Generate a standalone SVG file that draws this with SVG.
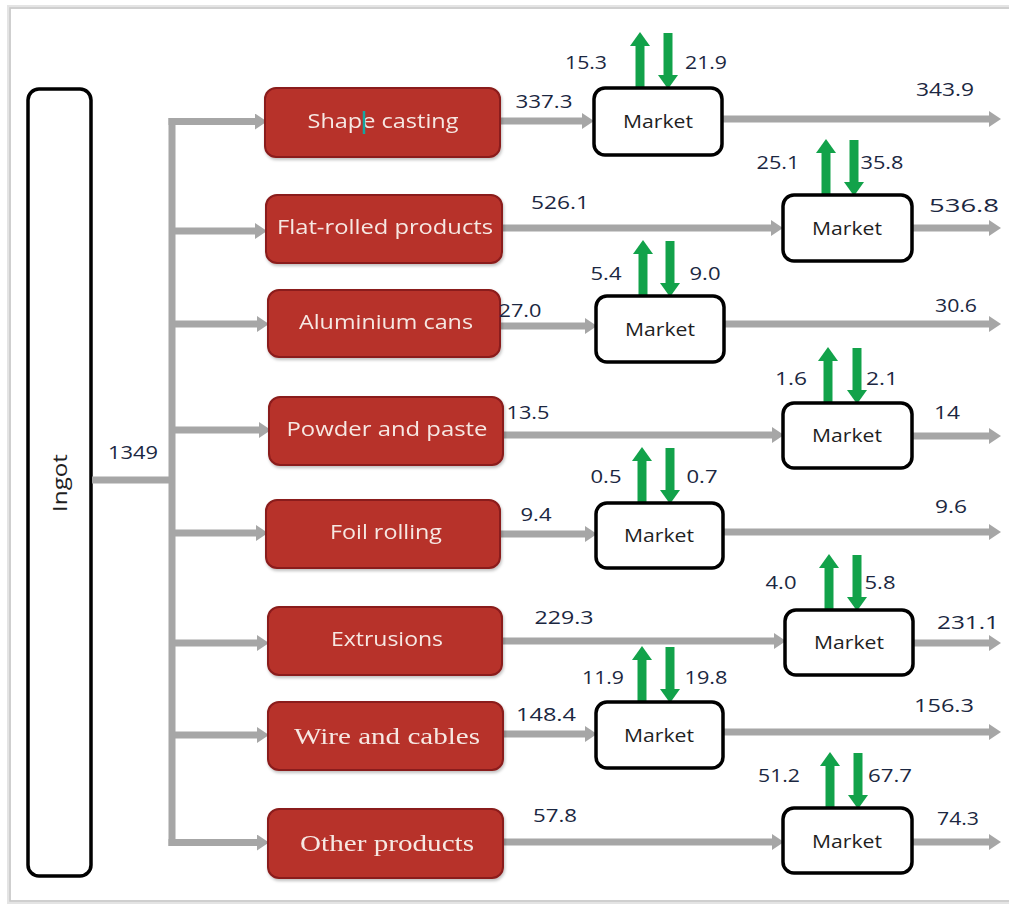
<svg xmlns="http://www.w3.org/2000/svg" width="1009" height="905" viewBox="0 0 1009 905">
  <defs>
    <marker id="grayHead" viewBox="0 -8 12 16" markerWidth="12" markerHeight="16" refX="0" refY="0" orient="auto" markerUnits="userSpaceOnUse">
      <path d="M0,-8 L12,0 L0,8 z" fill="#a6a6a6"/>
    </marker>
    <marker id="greenHead" viewBox="0 -10 14 20" markerWidth="14" markerHeight="20" refX="0" refY="0" orient="auto" markerUnits="userSpaceOnUse">
      <path d="M0,-10 L14,0 L0,10 z" fill="#12a24a"/>
    </marker>
    <filter id="soft" x="-5%" y="-5%" width="110%" height="115%">
      <feDropShadow dx="1" dy="2" stdDeviation="1.5" flood-color="#000" flood-opacity="0.25"/>
    </filter>
  </defs>
  <style>
    .flow { stroke: #a6a6a6; stroke-width: 7; fill: none; marker-end: url(#grayHead); }
    .trunk { stroke: #a6a6a6; stroke-width: 7; fill: none; }
    .trade { stroke: #12a24a; stroke-width: 9; fill: none; marker-end: url(#greenHead); }
    .product rect { fill: #b7302b; stroke: #8a1d1a; stroke-width: 2; }
    .product text { fill: #f6e8e2; text-anchor: middle; }
    .sans { font-family: "Open Sans", "Liberation Sans", Arial, sans-serif; font-size: 20px; }
    .serif { font-family: "Liberation Serif", "Times New Roman", serif; font-size: 24px; }
    .market rect { fill: #ffffff; stroke: #000000; stroke-width: 3.5; }
    .market text { font-family: "Open Sans", "Liberation Sans", Arial, sans-serif; font-size: 18px; fill: #1f1f1f; text-anchor: middle; }
    .num { font-family: "Open Sans", "Liberation Sans", Arial, sans-serif; font-size: 19px; fill: #1b2741; text-anchor: middle; }
  </style>

  <rect width="1009" height="905" fill="#ffffff"/>
  <!-- page frame -->
  <rect x="9" y="7" width="1010" height="895" fill="none" stroke="#e4e4e4" stroke-width="4"/>
  <rect x="10" y="8" width="1010" height="893" fill="none" stroke="#c8c8c8" stroke-width="1.5"/>

  <!-- source -->
  <g id="ingot">
    <rect x="28" y="89" width="63" height="787" rx="11" fill="#ffffff" stroke="#000" stroke-width="3.5"/>
    <text transform="translate(67,483) rotate(-90)" font-family="Open Sans, Liberation Sans, Arial, sans-serif" font-size="20" fill="#1f1f1f" text-anchor="middle" textLength="58" lengthAdjust="spacingAndGlyphs">Ingot</text>
  </g>

  <g id="connectors">
    <!-- ingot to distribution trunk -->
    <line class="trunk" x1="92" y1="480" x2="175" y2="480"/>
    <line class="trunk" x1="172" y1="118" x2="172" y2="846"/>
    <!-- trunk to products -->
    <line class="flow" x1="168.5" y1="121.5" x2="255" y2="121.5"/>
    <line class="flow" x1="172" y1="231" x2="255" y2="231"/>
    <line class="flow" x1="172" y1="324" x2="257" y2="324"/>
    <line class="flow" x1="172" y1="430" x2="259" y2="430"/>
    <line class="flow" x1="172" y1="533" x2="256" y2="533"/>
    <line class="flow" x1="172" y1="643" x2="257" y2="643"/>
    <line class="flow" x1="172" y1="735" x2="257" y2="735"/>
    <line class="flow" x1="168.5" y1="842.5" x2="257" y2="842.5"/>
    <!-- products to markets -->
    <line class="flow" x1="500" y1="121" x2="582" y2="121"/>
    <line class="flow" x1="502" y1="228" x2="771" y2="228"/>
    <line class="flow" x1="501" y1="326" x2="585" y2="326"/>
    <line class="flow" x1="503" y1="435" x2="772" y2="435"/>
    <line class="flow" x1="500" y1="534" x2="585" y2="534"/>
    <line class="flow" x1="502" y1="641" x2="774" y2="641"/>
    <line class="flow" x1="503" y1="734" x2="585" y2="734"/>
    <line class="flow" x1="503" y1="842" x2="772" y2="842"/>
    <!-- markets to use -->
    <line class="flow" x1="722" y1="119" x2="989" y2="119"/>
    <line class="flow" x1="912" y1="228" x2="989" y2="228"/>
    <line class="flow" x1="724" y1="324" x2="989" y2="324"/>
    <line class="flow" x1="912" y1="436" x2="989" y2="436"/>
    <line class="flow" x1="723" y1="532" x2="989" y2="532"/>
    <line class="flow" x1="913" y1="643" x2="989" y2="643"/>
    <line class="flow" x1="723" y1="732" x2="989" y2="732"/>
    <line class="flow" x1="912" y1="842" x2="989" y2="842"/>
    <!-- exports (up) and imports (down) -->
    <line class="trade" x1="640" y1="88" x2="640" y2="46"/>
    <line class="trade" x1="668" y1="33" x2="668" y2="75"/>
    <line class="trade" x1="826" y1="195" x2="826" y2="153"/>
    <line class="trade" x1="854" y1="140" x2="854" y2="182"/>
    <line class="trade" x1="643" y1="296" x2="643" y2="254"/>
    <line class="trade" x1="670" y1="241" x2="670" y2="283"/>
    <line class="trade" x1="828" y1="403" x2="828" y2="361"/>
    <line class="trade" x1="857" y1="348" x2="857" y2="390"/>
    <line class="trade" x1="642" y1="503" x2="642" y2="461"/>
    <line class="trade" x1="670" y1="448" x2="670" y2="490"/>
    <line class="trade" x1="829" y1="610" x2="829" y2="568"/>
    <line class="trade" x1="857" y1="555" x2="857" y2="597"/>
    <line class="trade" x1="642" y1="702" x2="642" y2="660"/>
    <line class="trade" x1="670" y1="647" x2="670" y2="689"/>
    <line class="trade" x1="830" y1="808" x2="830" y2="766"/>
    <line class="trade" x1="858" y1="753" x2="858" y2="795"/>
  </g>

  <!-- product groups -->
  <g id="shape-casting" class="product" filter="url(#soft)">
    <rect x="265" y="88" width="235" height="69" rx="11"/>
    <text class="sans" x="383" y="128" textLength="151" lengthAdjust="spacingAndGlyphs">Shape casting</text>
    <line x1="364" y1="111" x2="364" y2="134" stroke="#19a6a0" stroke-width="2.5"/>
  </g>
  <g id="flat-rolled" class="product" filter="url(#soft)">
    <rect x="266" y="195" width="236" height="68" rx="11"/>
    <text class="sans" x="385" y="234" textLength="216" lengthAdjust="spacingAndGlyphs">Flat-rolled products</text>
  </g>
  <g id="aluminium-cans" class="product" filter="url(#soft)">
    <rect x="268" y="290" width="232" height="67" rx="11"/>
    <text class="sans" x="386" y="329" textLength="174" lengthAdjust="spacingAndGlyphs">Aluminium cans</text>
  </g>
  <g id="powder-paste" class="product" filter="url(#soft)">
    <rect x="269" y="397" width="234" height="68" rx="11"/>
    <text class="sans" x="387" y="436" textLength="201" lengthAdjust="spacingAndGlyphs">Powder and paste</text>
  </g>
  <g id="foil-rolling" class="product" filter="url(#soft)">
    <rect x="266" y="500" width="234" height="68" rx="11"/>
    <text class="sans" x="386" y="539" textLength="112" lengthAdjust="spacingAndGlyphs">Foil rolling</text>
  </g>
  <g id="extrusions" class="product" filter="url(#soft)">
    <rect x="268" y="607" width="234" height="68" rx="11"/>
    <text class="sans" x="387" y="646" textLength="112" lengthAdjust="spacingAndGlyphs">Extrusions</text>
  </g>
  <g id="wire-cables" class="product" filter="url(#soft)">
    <rect x="268" y="702" width="235" height="68" rx="11"/>
    <text class="serif" x="387" y="744" textLength="186" lengthAdjust="spacingAndGlyphs">Wire and cables</text>
  </g>
  <g id="other-products" class="product" filter="url(#soft)">
    <rect x="268" y="809" width="235" height="69" rx="11"/>
    <text class="serif" x="387" y="851" textLength="174" lengthAdjust="spacingAndGlyphs">Other products</text>
  </g>

  <!-- market groups -->
  <g id="market-1" class="market">
    <rect x="594" y="88" width="128" height="67" rx="11"/>
    <text x="658" y="128" textLength="70" lengthAdjust="spacingAndGlyphs">Market</text>
  </g>
  <g id="market-2" class="market">
    <rect x="783" y="195" width="129" height="66" rx="11"/>
    <text x="847" y="235" textLength="70" lengthAdjust="spacingAndGlyphs">Market</text>
  </g>
  <g id="market-3" class="market">
    <rect x="596" y="296" width="128" height="66" rx="11"/>
    <text x="660" y="336" textLength="70" lengthAdjust="spacingAndGlyphs">Market</text>
  </g>
  <g id="market-4" class="market">
    <rect x="783" y="403" width="129" height="65" rx="11"/>
    <text x="847" y="442" textLength="70" lengthAdjust="spacingAndGlyphs">Market</text>
  </g>
  <g id="market-5" class="market">
    <rect x="596" y="503" width="127" height="65" rx="11"/>
    <text x="659" y="542" textLength="70" lengthAdjust="spacingAndGlyphs">Market</text>
  </g>
  <g id="market-6" class="market">
    <rect x="785" y="610" width="128" height="65" rx="11"/>
    <text x="849" y="649" textLength="70" lengthAdjust="spacingAndGlyphs">Market</text>
  </g>
  <g id="market-7" class="market">
    <rect x="596" y="702" width="127" height="66" rx="11"/>
    <text x="659" y="742" textLength="70" lengthAdjust="spacingAndGlyphs">Market</text>
  </g>
  <g id="market-8" class="market">
    <rect x="783" y="808" width="129" height="65" rx="11"/>
    <text x="847" y="848" textLength="70" lengthAdjust="spacingAndGlyphs">Market</text>
  </g>

  <!-- flow quantities -->
  <g id="labels" class="num">
    <text x="133" y="459" textLength="50" lengthAdjust="spacingAndGlyphs">1349</text>

    <text x="544" y="108" textLength="57" lengthAdjust="spacingAndGlyphs">337.3</text>
    <text x="586" y="69" textLength="42" lengthAdjust="spacingAndGlyphs">15.3</text>
    <text x="706" y="69" textLength="42" lengthAdjust="spacingAndGlyphs">21.9</text>
    <text x="945" y="96" textLength="58" lengthAdjust="spacingAndGlyphs">343.9</text>

    <text x="560" y="209" textLength="58" lengthAdjust="spacingAndGlyphs">526.1</text>
    <text x="778" y="169" textLength="43" lengthAdjust="spacingAndGlyphs">25.1</text>
    <text x="882" y="169" textLength="43" lengthAdjust="spacingAndGlyphs">35.8</text>
    <text x="964" y="212" textLength="70" lengthAdjust="spacingAndGlyphs">536.8</text>

    <text x="520" y="317" textLength="43" lengthAdjust="spacingAndGlyphs">27.0</text>
    <text x="606" y="280" textLength="31" lengthAdjust="spacingAndGlyphs">5.4</text>
    <text x="705" y="280" textLength="31" lengthAdjust="spacingAndGlyphs">9.0</text>
    <text x="956" y="312" textLength="42" lengthAdjust="spacingAndGlyphs">30.6</text>

    <text x="528" y="419" textLength="43" lengthAdjust="spacingAndGlyphs">13.5</text>
    <text x="791" y="385" textLength="32" lengthAdjust="spacingAndGlyphs">1.6</text>
    <text x="882" y="385" textLength="32" lengthAdjust="spacingAndGlyphs">2.1</text>
    <text x="947" y="419" textLength="26" lengthAdjust="spacingAndGlyphs">14</text>

    <text x="536" y="521" textLength="31" lengthAdjust="spacingAndGlyphs">9.4</text>
    <text x="606" y="483" textLength="31" lengthAdjust="spacingAndGlyphs">0.5</text>
    <text x="702" y="483" textLength="31" lengthAdjust="spacingAndGlyphs">0.7</text>
    <text x="951" y="513" textLength="32" lengthAdjust="spacingAndGlyphs">9.6</text>

    <text x="564" y="624" textLength="59" lengthAdjust="spacingAndGlyphs">229.3</text>
    <text x="781" y="589" textLength="31" lengthAdjust="spacingAndGlyphs">4.0</text>
    <text x="880" y="589" textLength="31" lengthAdjust="spacingAndGlyphs">5.8</text>
    <text x="968" y="629" textLength="62" lengthAdjust="spacingAndGlyphs">231.1</text>

    <text x="546" y="721" textLength="60" lengthAdjust="spacingAndGlyphs">148.4</text>
    <text x="603" y="684" textLength="42" lengthAdjust="spacingAndGlyphs">11.9</text>
    <text x="706" y="684" textLength="43" lengthAdjust="spacingAndGlyphs">19.8</text>
    <text x="944" y="712" textLength="60" lengthAdjust="spacingAndGlyphs">156.3</text>

    <text x="555" y="822" textLength="44" lengthAdjust="spacingAndGlyphs">57.8</text>
    <text x="779" y="782" textLength="42" lengthAdjust="spacingAndGlyphs">51.2</text>
    <text x="890" y="782" textLength="44" lengthAdjust="spacingAndGlyphs">67.7</text>
    <text x="958" y="825" textLength="42" lengthAdjust="spacingAndGlyphs">74.3</text>
  </g>
</svg>
